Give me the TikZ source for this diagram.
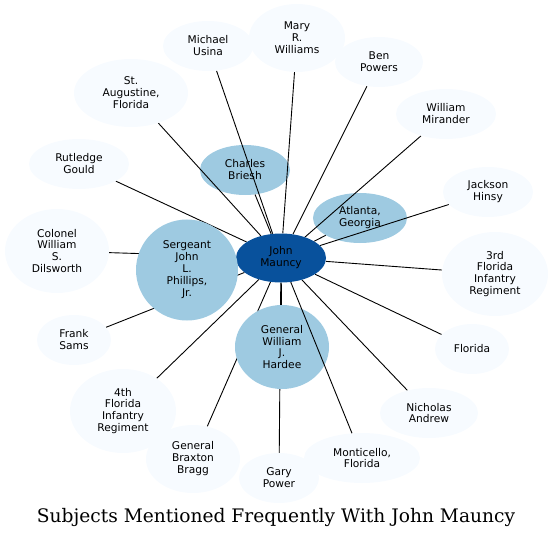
\documentclass[tikz,border=0pt]{standalone}
\usepackage{fontspec}
\newfontfamily\subjfont{DejaVu Sans}
\newfontfamily\titlefont{DejaVu Serif}
\usetikzlibrary{shapes.geometric}

\pgfdeclarelayer{under}
\pgfdeclarelayer{wires}
\pgfsetlayers{under,wires,main}

\definecolor{paleblue}{HTML}{F7FBFF}
\definecolor{midblue}{HTML}{9ECAE1}
\definecolor{darkblue}{HTML}{08519C}

\begin{document}
\begin{tikzpicture}[x=1bp, y=-1bp,
    subject/.style={ellipse, inner sep=0pt, align=center, font=\subjfont\fontsize{10.7}{12}\selectfont},
    outer/.style={subject, fill=paleblue},
    inner/.style={subject, fill=midblue},
    hub/.style={subject, fill=darkblue},
    link/.style={line width=0.9bp},
    title/.style={font=\titlefont\fontsize{18.7}{22}\selectfont}
]
\useasboundingbox (0,0) rectangle (553,538);

% Centre
\node[hub, minimum width=90bp, minimum height=49bp] (mauncy) at (281,258) {John\\Mauncy};

% Inner ring
\node[inner, minimum width=102bp, minimum height=101bp] (phillips) at (187,270) {Sergeant\\John\\L.\\Phillips,\\Jr.};
\node[inner, minimum width=94bp, minimum height=84bp] (hardee) at (282,347) {General\\William\\J.\\Hardee};
\begin{pgfonlayer}{under}
    \node[inner, minimum width=90bp, minimum height=50bp] (briesh) at (245,170) {Charles\\Briesh};
    \node[inner, minimum width=94bp, minimum height=50bp] (atlanta) at (360,218) {Atlanta,\\Georgia};
\end{pgfonlayer}

% Outer ring, clockwise from the top
\node[outer, minimum width=90bp, minimum height=50bp] (usina) at (208,46) {Michael\\Usina};
\node[outer, minimum width=96bp, minimum height=68bp] (williams) at (297,38) {Mary\\R.\\Williams};
\node[outer, minimum width=88bp, minimum height=50bp] (powers) at (379,62) {Ben\\Powers};
\node[outer, minimum width=100bp, minimum height=50bp] (mirander) at (446,114) {William\\Mirander};
\node[outer, minimum width=90bp, minimum height=50bp] (hinsy) at (488,192) {Jackson\\Hinsy};
\node[outer, minimum width=106bp, minimum height=84bp] (third) at (495,274) {3rd\\Florida\\Infantry\\Regiment};
\node[outer, minimum width=74bp, minimum height=50bp] (florida) at (472,349) {Florida};
\node[outer, minimum width=98bp, minimum height=50bp] (andrew) at (429,413) {Nicholas\\Andrew};
\node[outer, minimum width=116bp, minimum height=50bp] (monticello) at (362,458) {Monticello,\\Florida};
\node[outer, minimum width=80bp, minimum height=50bp] (power) at (279,478) {Gary\\Power};
\node[outer, minimum width=94bp, minimum height=68bp] (bragg) at (193,459) {General\\Braxton\\Bragg};
\node[outer, minimum width=106bp, minimum height=84bp] (fourth) at (123,411) {4th\\Florida\\Infantry\\Regiment};
\node[outer, minimum width=74bp, minimum height=50bp] (sams) at (74,340) {Frank\\Sams};
\node[outer, minimum width=104bp, minimum height=84bp] (dilsworth) at (57,251) {Colonel\\William\\S.\\Dilsworth};
\node[outer, minimum width=100bp, minimum height=50bp] (gould) at (79,164) {Rutledge\\Gould};
\node[outer, minimum width=114bp, minimum height=68bp] (augustine) at (131,93) {St.\\Augustine,\\Florida};

% Links (most run under the inner ring)
\begin{pgfonlayer}{wires}
    \foreach \other in {briesh,atlanta,phillips,hardee,usina,williams,powers,mirander,hinsy,third,
                        florida,andrew,power,bragg,fourth,sams,dilsworth,gould,augustine}
        \draw[link] (mauncy) -- (\other);
\end{pgfonlayer}
\draw[link] (mauncy) -- (monticello);

% Title
\node[title] (caption) at (276,517) {Subjects Mentioned Frequently With John Mauncy};

\end{tikzpicture}
\end{document}
